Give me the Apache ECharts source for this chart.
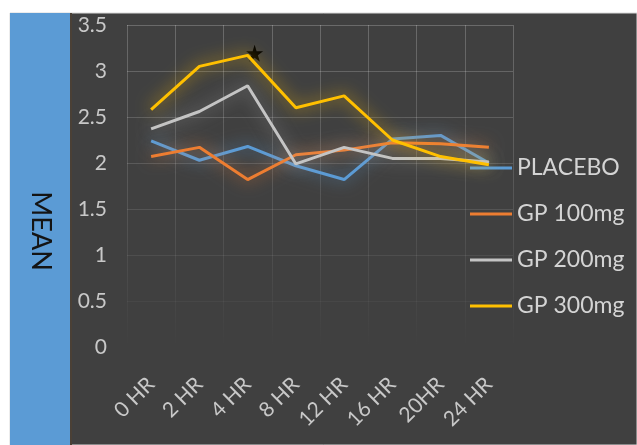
<!DOCTYPE html>
<html><head><meta charset="utf-8">
<script src="https://cdn.jsdelivr.net/npm/echarts@6/dist/echarts.min.js"></script>
<style>html,body{margin:0;padding:0;background:#fff}#c{width:637px;height:445px}</style>
</head><body><div id="c"></div>
<script>
const categories = ['0 HR', '2 HR', '4 HR', '8 HR', '12 HR', '16 HR', '20HR', '24 HR'];
const seriesNames = ['PLACEBO', 'GP 100mg', 'GP 200mg', 'GP 300mg'];
const placebo = [2.24, 2.03, 2.18, 1.97, 1.82, 2.26, 2.30, 2.00];
const gp100 = [2.07, 2.17, 1.82, 2.09, 2.14, 2.22, 2.21, 2.17];
const gp200 = [2.37, 2.56, 2.84, 1.99, 2.17, 2.05, 2.05, 2.01];
const gp300 = [2.58, 3.05, 3.17, 2.60, 2.73, 2.25, 2.07, 1.98];
const yMin = 0, yMax = 3.5, yStep = 0.5;
const starCategory = '4 HR';
const starValue = 3.17;
const axisTitle = 'MEAN';

const colors = ['#5B9BD5', '#ED7D31', '#C4C4C4', '#FFC000'];
const glows = ['rgba(91,155,213,0.8)', 'rgba(237,125,49,0.8)', 'rgba(190,190,190,0.6)', 'rgba(255,192,0,0.9)'];
const values = [placebo, gp100, gp200, gp300];
const FONT = 'Lato';
const gridFade = new echarts.graphic.LinearGradient(0, 25, 0, 347, [
  {offset: 0, color: 'rgba(255,255,255,0.22)'},
  {offset: 0.6, color: 'rgba(255,255,255,0.10)'},
  {offset: 1, color: 'rgba(255,255,255,0.0)'}
], true);

const series = values.map((d, i) => ({
  name: seriesNames[i],
  type: 'line',
  data: d,
  symbol: 'none',
  z: 2 + i,
  lineStyle: {color: colors[i], width: 3, shadowBlur: 16, shadowColor: glows[i]},
  itemStyle: {color: colors[i]},
  markPoint: i === 3 ? {
    symbol: 'path://M12,0 L14.8,8.6 L24,8.6 L16.6,14 L19.4,23 L12,17.6 L4.6,23 L7.4,14 L0,8.6 L9.2,8.6 Z',
    symbolSize: 17,
    symbolOffset: [7, -2],
    itemStyle: {color: '#000'},
    label: {show: false},
    data: [{coord: [starCategory, starValue]}]
  } : undefined
}));

const chart = echarts.init(document.getElementById('c'), null, {renderer: 'canvas'});
chart.setOption({
  backgroundColor: '#ffffff',
  animation: false,
  graphic: [
    {type: 'rect', z: -10, shape: {x: 10, y: 13, width: 627, height: 432}, style: {fill: '#404040', stroke: '#d8d8d8', lineWidth: 1}},
    {type: 'rect', z: -9, shape: {x: 10, y: 13, width: 60, height: 432}, style: {fill: '#5B9BD5'}},
    {type: 'rect', z: -9, shape: {x: 70, y: 13, width: 2, height: 432}, style: {fill: '#4a4036'}},
    {type: 'text', z: 10, x: 41, y: 231, rotation: -Math.PI / 2,
     style: {text: axisTitle, fill: '#141414', font: '27px ' + FONT, align: 'center', verticalAlign: 'middle'}}
  ],
  grid: {left: 127, right: 124, top: 25, bottom: 98, containLabel: false},
  legend: {
    orient: 'vertical', left: 465, top: 151,
    itemWidth: 42, itemHeight: 3, itemGap: 22,
    icon: 'rect',
    data: seriesNames,
    textStyle: {color: '#D4D4D4', fontFamily: FONT, fontSize: 23, lineHeight: 24}
  },
  xAxis: {
    type: 'category', data: categories, boundaryGap: true,
    axisLine: {show: false}, axisTick: {show: false},
    axisLabel: {rotate: 45, margin: 34, color: '#C8C8C8', fontFamily: FONT, fontSize: 21, interval: 0},
    splitLine: {show: true, interval: 0, lineStyle: {color: gridFade, width: 1}}
  },
  yAxis: {
    type: 'value', min: yMin, max: yMax, interval: yStep,
    axisLine: {show: false}, axisTick: {show: false},
    axisLabel: {margin: 20, color: '#C8C8C8', fontFamily: FONT, fontSize: 21},
    splitLine: {show: true, lineStyle: {color: gridFade, width: 1}}
  },
  series: series
});
</script></body></html>
